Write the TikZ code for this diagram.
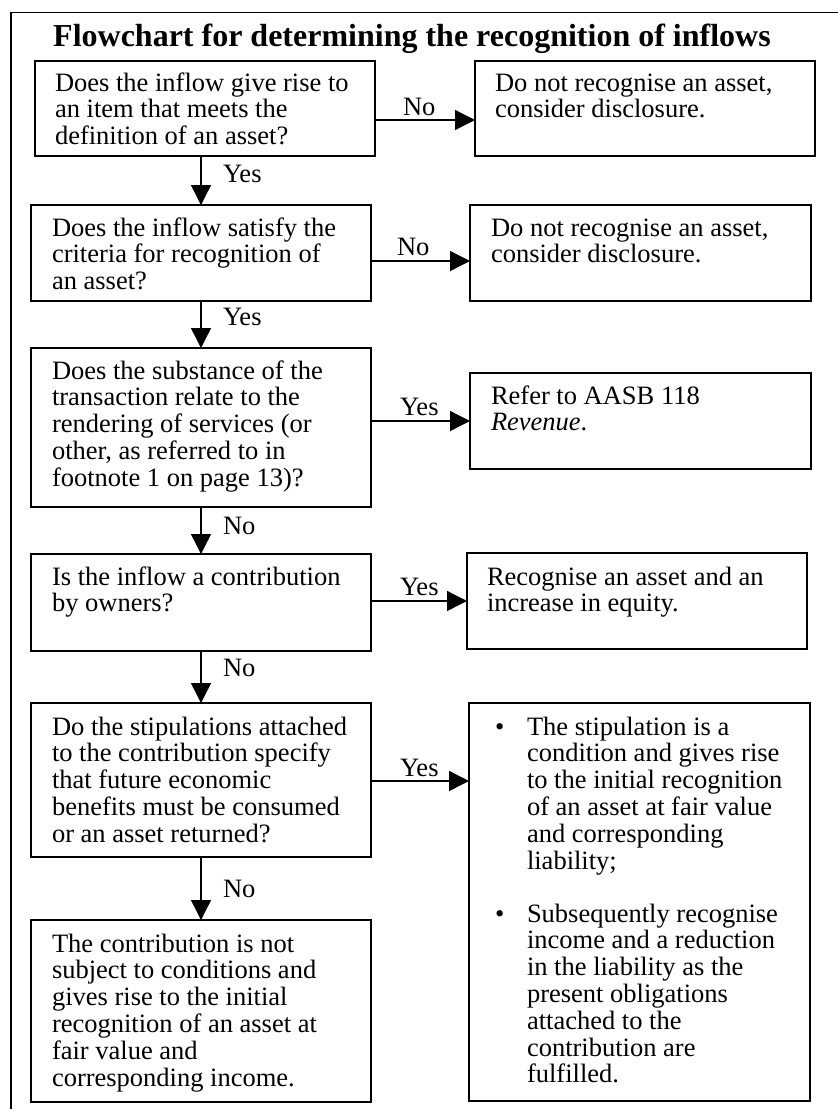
\documentclass[tikz,border=0pt]{standalone}
\usepackage{fontspec}
\setmainfont{Liberation Serif}
\usetikzlibrary{arrows.meta}
\newcommand\boxlines[1]{\begin{tabular}[t]{@{}l@{}}#1\end{tabular}}
\begin{document}
\begin{tikzpicture}[x=1pt,y=-1pt,
  box/.style={draw,line width=1.6pt,rectangle,inner sep=0pt,outer sep=0pt},
  txt/.style={anchor=base west,inner sep=0pt,outer sep=0pt,font=\fontsize{26.5}{26.8}\selectfont},
  arr/.style={line width=1.4pt,-{Triangle[length=20pt,width=20pt]}},
  frameline/.style={line width=1.8pt}]
\useasboundingbox (0,0) rectangle (838,1109);
% outer frame (open on right and bottom)
\draw[frameline] (11,1110) -- (11,12.5) -- (838,12.5);
% title
\node[anchor=base west,inner sep=0pt,font=\fontsize{32}{36}\selectfont\bfseries] (title) at (53,46)
  {Flowchart for determining the recognition of inflows};
% left column boxes
\node[box,minimum width=340pt,minimum height=95pt] (b1) at (205,108.5) {};
\node[box,minimum width=340pt,minimum height=96pt] (b2) at (201,253) {};
\node[box,minimum width=340pt,minimum height=159pt] (b3) at (201,427.5) {};
\node[box,minimum width=340pt,minimum height=97pt] (b4) at (201,602.5) {};
\node[box,minimum width=340pt,minimum height=154pt] (b5) at (201,780) {};
\node[box,minimum width=340pt,minimum height=182pt] (b6) at (201,1011) {};
% right column boxes
\node[box,minimum width=340pt,minimum height=95pt] (r1) at (645,108.5) {};
\node[box,minimum width=341pt,minimum height=96pt] (r2) at (640.5,253) {};
\node[box,minimum width=341pt,minimum height=96pt] (r3) at (640.5,421) {};
\node[box,minimum width=340pt,minimum height=96pt] (r4) at (637,601) {};
\node[box,minimum width=341pt,minimum height=398pt] (r5) at (639.5,902) {};
% texts
\node[txt] (t1) at (55,91) {\boxlines{Does the inflow give rise to\\an item that meets the\\definition of an asset?}};
\node[txt] (t2) at (52,236) {\boxlines{Does the inflow satisfy the\\criteria for recognition of\\an asset?}};
\node[txt] (t3) at (52,379) {\boxlines{Does the substance of the\\transaction relate to the\\rendering of services (or\\other, as referred to in\\footnote 1 on page 13)?}};
\node[txt] (t4) at (52,585) {\boxlines{Is the inflow a contribution\\by owners?}};
\node[txt] (t5) at (52,735) {\boxlines{Do the stipulations attached\\to the contribution specify\\that future economic\\benefits must be consumed\\or an asset returned?}};
\node[txt] (t6) at (52,952) {\boxlines{The contribution is not\\subject to conditions and\\gives rise to the initial\\recognition of an asset at\\fair value and\\corresponding income.}};
\node[txt] (s1) at (495,91) {\boxlines{Do not recognise an asset,\\consider disclosure.}};
\node[txt] (s2) at (491,236) {\boxlines{Do not recognise an asset,\\consider disclosure.}};
\node[txt] (s3) at (491,404) {\boxlines{Refer to AASB 118\\\textit{Revenue}.}};
\node[txt] (s4) at (487,585) {\boxlines{Recognise an asset and an\\increase in equity.}};
\node[txt] (bu1) at (495,735) {\textbullet};
\node[txt] (s5a) at (527,735) {\boxlines{The stipulation is a\\condition and gives rise\\to the initial recognition\\of an asset at fair value\\and corresponding\\liability;}};
\node[txt] (bu2) at (495,922) {\textbullet};
\node[txt] (s5b) at (527,922) {\boxlines{Subsequently recognise\\income and a reduction\\in the liability as the\\present obligations\\attached to the\\contribution are\\fulfilled.}};
% arrow heights for horizontal connectors
\coordinate (a1) at (0,120);
\coordinate (a2) at (0,261);
\coordinate (a3) at (0,421);
\coordinate (a4) at (0,601);
\coordinate (a5) at (0,781);
% vertical connectors
\draw[arr] (b2.north |- b1.south) -- (b2.north);
\draw[arr] (b2.south) -- (b3.north);
\draw[arr] (b3.south) -- (b4.north);
\draw[arr] (b4.south) -- (b5.north);
\draw[arr] (b5.south) -- (b6.north);
% horizontal connectors
\draw[arr] (b1.east |- a1) -- (r1.west |- a1);
\draw[arr] (b2.east |- a2) -- (r2.west |- a2);
\draw[arr] (b3.east |- a3) -- (r3.west |- a3);
\draw[arr] (b4.east |- a4) -- (r4.west |- a4);
\draw[arr] (b5.east |- a5) -- (r5.west |- a5);
% labels on vertical connectors
\node[txt] (ly1) at (223,182) {Yes};
\node[txt] (ly2) at (223,325) {Yes};
\node[txt] (ln3) at (223,534) {No};
\node[txt] (ln4) at (223,676) {No};
\node[txt] (ln5) at (223,897) {No};
% labels on horizontal connectors
\node[txt] (hn1) at (403,115) {No};
\node[txt] (hn2) at (397,255) {No};
\node[txt] (hy3) at (400,415) {Yes};
\node[txt] (hy4) at (400,595) {Yes};
\node[txt] (hy5) at (400,776) {Yes};
\end{tikzpicture}
\end{document}
